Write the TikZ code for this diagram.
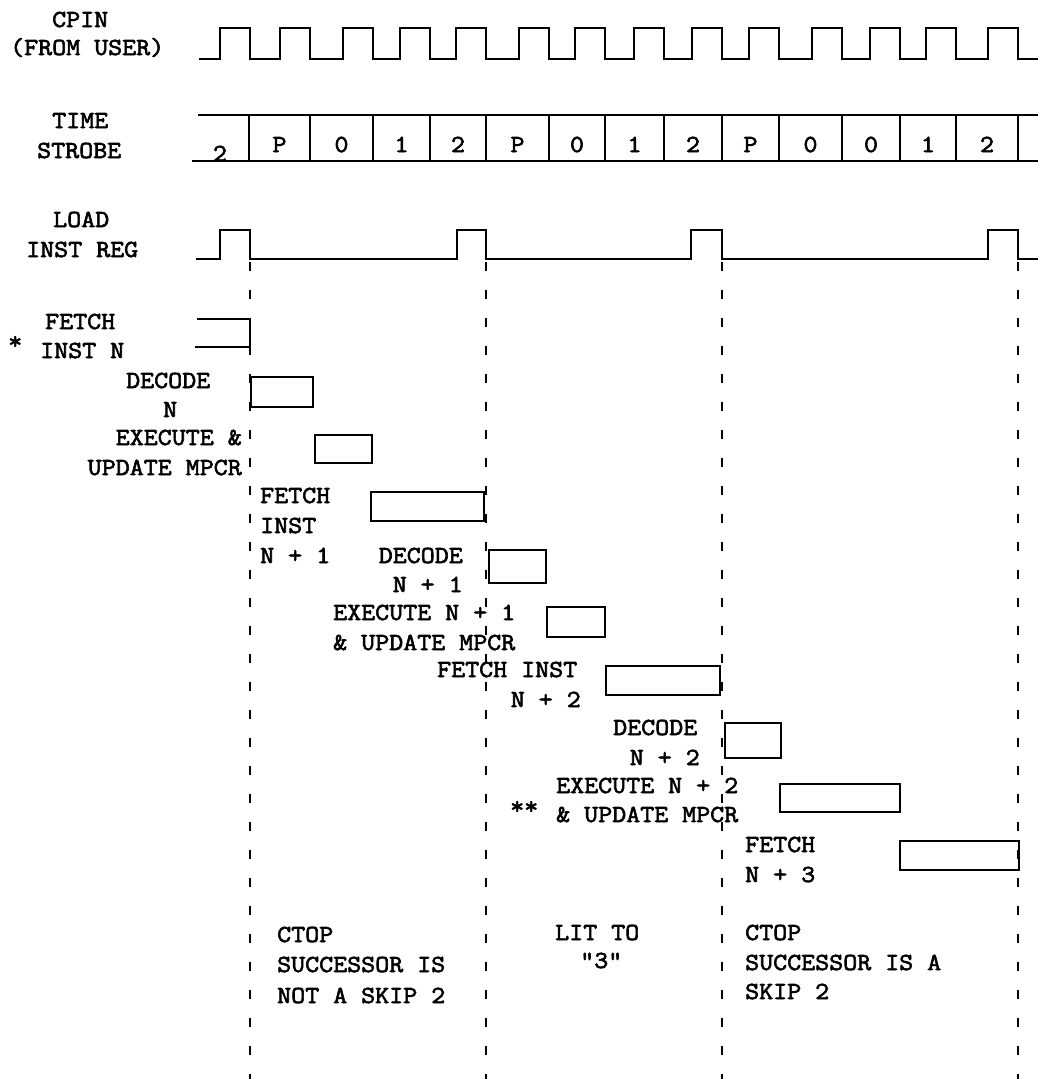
\documentclass[tikz,border=0pt]{standalone}
\usepackage{fontspec}
\newfontfamily\tw{Latin Modern Mono}[FakeBold=2.5,FakeStretch=1.11]
\begin{document}
\begin{tikzpicture}[x=1pt,y=-1pt,line join=miter,
  lbl/.style={font=\tw\fontsize{24.5}{28}\selectfont,inner sep=0pt,text=black},
  wave/.style={line width=2.5pt},
  bar/.style={line width=2.5pt},
  guide/.style={line width=2pt,dash pattern=on 9pt off 19pt}]
\useasboundingbox[fill=white] (0,0) rectangle (1038,1079);

% ---- labels of signals
\node[lbl,anchor=base west] (cpinA) at (52,27) {CPIN};
\node[lbl,anchor=base west] (cpinB) at (10,55) {(FROM USER)};
\node[lbl,anchor=base west] (tsA) at (52,128) {TIME};
\node[lbl,anchor=base west] (tsB) at (37,158) {STROBE};
\node[lbl,anchor=base west] (lirA) at (53,227) {LOAD};
\node[lbl,anchor=base west] (lirB) at (26,257) {INST REG};

% ---- CPIN clock
\draw[wave] (199,59) -- (220,59)
  \foreach \f in {250,310,373,430,486,549,605,664,722,779,842,900,956,1018}{
     -- (\f-30,59) -- (\f-30,28) -- (\f,28) -- (\f,59)} -- (1038,59);

% ---- time strobe
\draw[wave] (198,115) -- (1038,115);
\draw[wave] (192,161) -- (1038,161);
\foreach \f in {249,310,373,430,486,549,605,664,722,779,842,900,956,1018}
  \draw[wave] (\f,115) -- (\f,161);
\node[lbl,anchor=base] (ts0) at (220,161) {2};
\foreach \a/\b/\t [count=\i] in {249/310/P,310/373/0,373/430/1,430/486/2,486/549/P,549/605/0,605/664/1,664/722/2,722/779/P,779/842/0,842/900/0,900/956/1,956/1018/2}
  \node[lbl,anchor=base] (ts\i) at ({(\a+\b)/2},152) {\t};

% ---- load inst reg
\draw[wave] (196,259) -- (220,259) -- (220,230) -- (250,230) -- (250,259)
  -- (457,259) -- (457,230) -- (486,230) -- (486,259)
  -- (691,259) -- (691,230) -- (722,230) -- (722,259)
  -- (988,259) -- (988,230) -- (1018,230) -- (1018,259) -- (1038,259);

% ---- guide lines
\foreach \x in {250,486,722,1018}
  \draw[guide] (\x,262) -- (\x,1079);

% ---- activity bars
\draw[bar] (197,319) -- (250,319) -- (250,347) -- (195,347);
\draw[bar] (251,377) rectangle (313,407);
\draw[bar] (315,435) rectangle (372,463);
\draw[bar] (371,492) rectangle (484,521);
\draw[bar] (489,550) rectangle (546,583);
\draw[bar] (547,607) rectangle (605,637);
\draw[bar] (606,666) rectangle (720,695);
\draw[bar] (725,723) rectangle (781,758);
\draw[bar] (780,784) rectangle (900,812);
\draw[bar] (900,841) rectangle (1019,870);

% ---- bar labels
\node[lbl,anchor=base west] (star) at (8,349) {*};
\node[lbl,anchor=base west] (fiA) at (45,329) {FETCH};
\node[lbl,anchor=base west] (fiB) at (40,358) {INST N};
\node[lbl,anchor=base west] (dnA) at (126,388) {DECODE};
\node[lbl,anchor=base west] (dnB) at (163,417) {N};
\node[lbl,anchor=base east] (enA) at (242,445) {EXECUTE \&};
\node[lbl,anchor=base east] (enB) at (242,475) {UPDATE MPCR};
\node[lbl,anchor=base west] (f1A) at (260,503) {FETCH};
\node[lbl,anchor=base west] (f1B) at (260,533) {INST};
\node[lbl,anchor=base west] (f1C) at (260,563) {N + 1};
\node[lbl,anchor=base east] (d1A) at (463,563) {DECODE};
\node[lbl,anchor=base east] (d1B) at (463,592) {N + 1};
\node[lbl,anchor=base west] (e1A) at (333,620) {EXECUTE N + 1};
\node[lbl,anchor=base west] (e1B) at (333,650) {\& UPDATE MPCR};
\node[lbl,anchor=base west] (f2A) at (437,677) {FETCH INST};
\node[lbl,anchor=base east] (f2B) at (581,707) {N + 2};
\node[lbl,anchor=base west] (d2A) at (613,735) {DECODE};
\node[lbl,anchor=base east] (d2B) at (700,765) {N + 2};
\node[lbl,anchor=base west] (star2) at (510,814) {**};
\node[lbl,anchor=base west] (e2A) at (556,793) {EXECUTE N + 2};
\node[lbl,anchor=base west] (e2B) at (556,822) {\& UPDATE MPCR};
\node[lbl,anchor=base west] (f3A) at (745,852) {FETCH};
\node[lbl,anchor=base west] (f3B) at (745,882) {N + 3};

% ---- notes
\node[lbl,anchor=base west] (c1A) at (277,942) {CTOP};
\node[lbl,anchor=base west] (c1B) at (277,972) {SUCCESSOR IS};
\node[lbl,anchor=base west] (c1C) at (277,1003) {NOT A SKIP 2};
\node[lbl,anchor=base west] (litA) at (555,940) {LIT TO};
\node[lbl,anchor=base west] (litB) at (580,968) {"3"};
\node[lbl,anchor=base west] (c2A) at (745,940) {CTOP};
\node[lbl,anchor=base west] (c2B) at (745,970) {SUCCESSOR IS A};
\node[lbl,anchor=base west] (c2C) at (745,999) {SKIP 2};
\end{tikzpicture}
\end{document}
